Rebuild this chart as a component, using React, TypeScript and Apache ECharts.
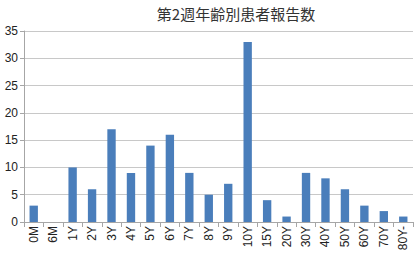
import React, { useEffect, useRef } from "react";
import * as echarts from "echarts";

const categories = ["0M", "6M", "1Y", "2Y", "3Y", "4Y", "5Y", "6Y", "7Y", "8Y", "9Y", "10Y", "15Y", "20Y", "30Y", "40Y", "50Y", "60Y", "70Y", "80Y-"];
const counts = [3, 0, 10, 6, 17, 9, 14, 16, 9, 5, 7, 33, 4, 1, 9, 8, 6, 3, 2, 1];
const title = "第2週年齢別患者報告数";

export default function App() {
  const ref = useRef<HTMLDivElement>(null);
  useEffect(() => {
    document.body.style.margin = "0";
    const chart = echarts.init(ref.current!, null, { renderer: "svg" });
    chart.setOption({
      animation: false,
      backgroundColor: "#ffffff",
      title: {
        text: title,
        left: 231,
        textAlign: "center",
        top: 1,
        textStyle: {
          fontFamily: "Noto Sans CJK JP",
          fontSize: 15,
          fontWeight: "normal",
          color: "#333333",
        },
      },
      grid: { left: 24, right: 3, top: 31, bottom: 34 },
      xAxis: {
        type: "category",
        data: categories,
        axisLine: { lineStyle: { color: "#a6a6a6" } },
        axisTick: { show: true, alignWithLabel: false, length: 5, lineStyle: { color: "#a6a6a6" } },
        axisLabel: {
          rotate: 90,
          interval: 0,
          fontSize: 12,
          margin: 4,
          color: "#222222",
          fontFamily: "Liberation Sans",
        },
      },
      yAxis: {
        type: "value",
        min: 0,
        max: 35,
        interval: 5,
        axisLine: { show: true, lineStyle: { color: "#a6a6a6" } },
        axisTick: { show: true, length: 4, lineStyle: { color: "#a6a6a6" } },
        splitLine: { lineStyle: { color: "#c8c8c8" } },
        axisLabel: {
          fontSize: 12,
          margin: 6,
          color: "#222222",
          fontFamily: "Liberation Sans",
        },
      },
      series: [
        {
          type: "bar",
          data: counts,
          barWidth: "43%",
          itemStyle: { color: "#4a7ebb" },
        },
      ],
    });
    return () => chart.dispose();
  }, []);
  return <div ref={ref} style={{ width: 416, height: 256 }} />;
}
